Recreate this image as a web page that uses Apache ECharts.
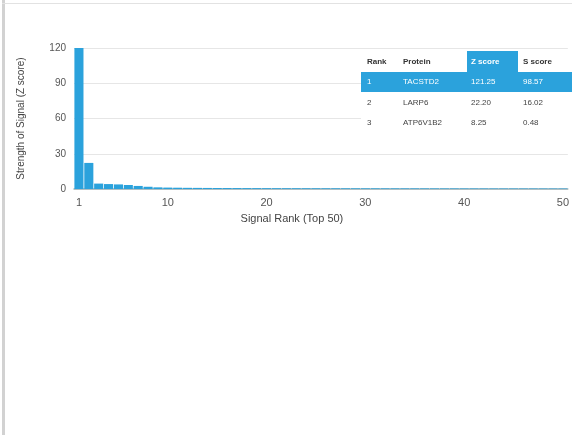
<!DOCTYPE html>
<html>
<head>
<meta charset="utf-8">
<script src="https://cdn.jsdelivr.net/npm/echarts@6/dist/echarts.min.js"></script>
<style>html,body{margin:0;padding:0;background:#fff;}#c{width:572px;height:435px;}</style>
</head>
<body>
<div id="c"></div>
<script>
var ranks = [];
for (var i = 1; i <= 50; i++) ranks.push(String(i));
var zScores = [121.25, 22.2, 4.6, 4.2, 3.9, 3.4, 2.6, 1.9, 1.4, 1.2,
  1.1, 1.0, 0.95, 0.9, 0.86, 0.82, 0.79, 0.76, 0.73, 0.7,
  0.68, 0.66, 0.65, 0.63, 0.62, 0.6, 0.59, 0.58, 0.57, 0.56,
  0.55, 0.54, 0.53, 0.52, 0.51, 0.5, 0.49, 0.48, 0.47, 0.46,
  0.46, 0.45, 0.44, 0.44, 0.43, 0.42, 0.42, 0.41, 0.4, 0.4];
var xTickRanks = ['1', '10', '20', '30', '40', '50'];
var tableHeader = ['Rank', 'Protein', 'Z score', 'S score'];
var tableRows = [
  ['1', 'TACSTD2', '121.25', '98.57'],
  ['2', 'LARP6', '22.20', '16.02'],
  ['3', 'ATP6V1B2', '8.25', '0.48']
];

var blue = '#2ba2dc';
var colX = [367, 403, 471, 523];
var graphics = [
  {type: 'rect', z: 100, shape: {x: 2, y: 0, width: 3, height: 435}, style: {fill: '#d2d2d2'}},
  {type: 'rect', z: 100, shape: {x: 2, y: 3, width: 570, height: 1}, style: {fill: '#e2e2e2'}},
  {type: 'rect', z: 100, shape: {x: 361, y: 50, width: 211, height: 86}, style: {fill: '#fff'}},
  {type: 'rect', z: 100, shape: {x: 467, y: 51, width: 51, height: 21}, style: {fill: blue}},
  {type: 'rect', z: 100, shape: {x: 361, y: 72, width: 211, height: 20}, style: {fill: blue}}
];
tableHeader.forEach(function (h, j) {
  graphics.push({type: 'text', z: 101, x: colX[j], y: 62, style: {text: h, fill: j === 2 ? '#fff' : '#333',
    font: 'bold 8px "Liberation Sans", Arial, sans-serif', verticalAlign: 'middle'}});
});
tableRows.forEach(function (row, r) {
  row.forEach(function (cell, j) {
    graphics.push({type: 'text', z: 101, x: colX[j], y: 82 + r * 20.5, style: {text: cell,
      fill: r === 0 ? '#fff' : '#444', font: '8px "Liberation Sans", Arial, sans-serif', verticalAlign: 'middle'}});
  });
});

var chart = echarts.init(document.getElementById('c'));
chart.setOption({
  animation: false,
  grid: {left: 74, right: 2, top: 48, bottom: 246, containLabel: false},
  xAxis: {
    type: 'category', data: ranks,
    name: 'Signal Rank (Top 50)', nameLocation: 'middle', nameGap: 24,
    nameTextStyle: {color: '#444', fontSize: 11, fontFamily: 'Liberation Sans', padding: [0, 58, 0, 0]},
    axisLine: {lineStyle: {color: '#9fb3b8', width: 1.5}},
    axisTick: {show: false},
    axisLabel: {color: '#555', fontSize: 11, fontFamily: 'Liberation Sans', margin: 8,
      interval: function (idx, val) { return xTickRanks.indexOf(val) >= 0; }}
  },
  yAxis: {
    type: 'value', min: 0, max: 120, interval: 30,
    name: 'Strength of Signal (Z score)', nameLocation: 'middle', nameGap: 48,
    nameTextStyle: {color: '#444', fontSize: 10, fontFamily: 'Liberation Sans'},
    axisLine: {show: false}, axisTick: {show: false},
    axisLabel: {color: '#555', fontSize: 10, fontFamily: 'Liberation Sans', margin: 8},
    splitLine: {lineStyle: {color: '#e6e6e6'}}
  },
  series: [{
    type: 'bar', data: zScores, barCategoryGap: '8%',
    itemStyle: {color: blue}, clip: true
  }],
  graphic: graphics
});
</script>
</body>
</html>
